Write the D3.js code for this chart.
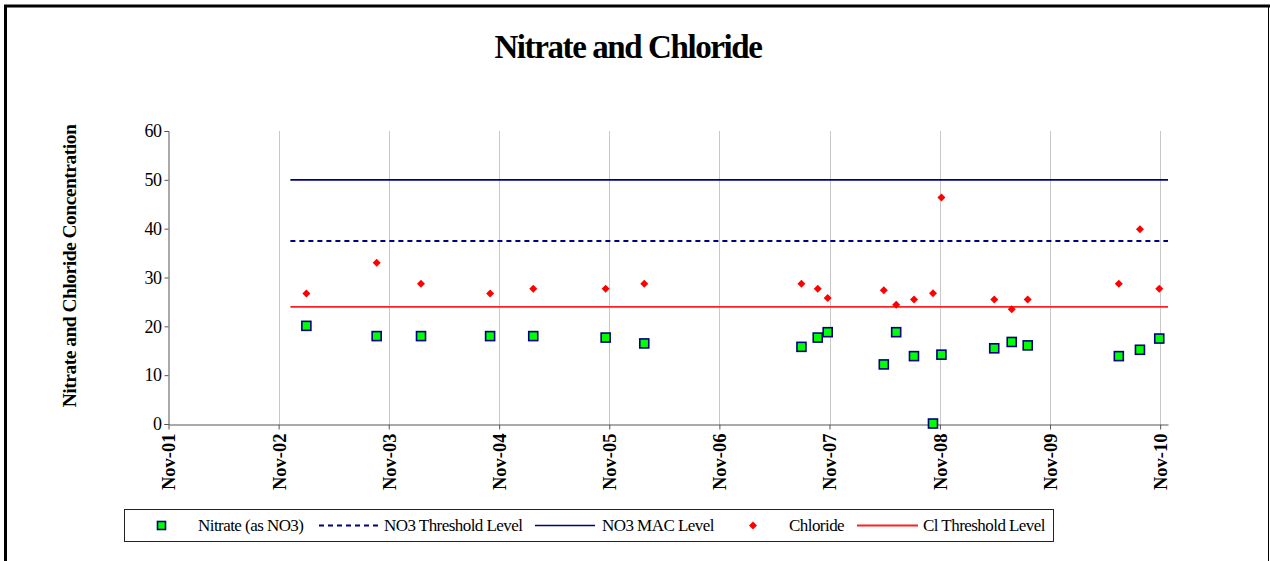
<!DOCTYPE html>
<html>
<head>
<meta charset="utf-8">
<script src="https://cdn.jsdelivr.net/npm/d3@7"></script>
<style>
  body { margin: 0; background: #fff; }
  text { font-family: "Liberation Serif", "DejaVu Serif", serif; }
</style>
</head>
<body>
<div id="chart"></div>
<script>
// size of the page
var width = 1270,
    height = 561

// sample dates
var sampleDates = ["2003-02-01", "2003-09-22", "2004-02-16", "2004-10-02", "2005-02-22",
  "2005-10-20", "2006-02-25", "2007-07-31", "2007-09-23", "2007-10-26", "2008-04-29",
  "2008-06-09", "2008-08-07", "2008-10-09", "2008-11-06", "2009-04-30", "2009-06-27",
  "2009-08-19", "2010-06-17", "2010-08-26", "2010-10-29"]
var nitrate = [20.1, 18.0, 18.0, 18.0, 18.0, 17.7, 16.5, 15.8, 17.7, 18.8, 12.2,
  18.8, 13.9, 0.1, 14.2, 15.5, 16.8, 16.1, 13.9, 15.2, 17.5]
var chloride = [26.7, 33.0, 28.7, 26.7, 27.7, 27.7, 28.7, 28.7, 27.7, 25.8, 27.4,
  24.4, 25.5, 26.8, 46.4, 25.5, 23.5, 25.5, 28.7, 39.9, 27.7]

// threshold lines run between these two dates
var limitDates = ["2002-12-10", "2010-11-27"]
var no3Threshold = 37.5
var no3MAC = 50
var clThreshold = 24

var tickDates = ["2001-11-01", "2002-11-01", "2003-11-01", "2004-11-01", "2005-11-01",
  "2006-11-01", "2007-11-01", "2008-11-01", "2009-11-01", "2010-11-01"]
var yTicks = [0, 10, 20, 30, 40, 50, 60]

var parse = d3.timeParse("%Y-%m-%d")

var svg = d3.select("#chart")
  .append("svg")
    .attr("width", width)
    .attr("height", height)

// outer frame (top and left heavy, right thin)
svg.append("path")
  .attr("d", "M5.5," + height + "V6H1270")
  .attr("fill", "none")
  .attr("stroke", "#000")
  .attr("stroke-width", 3)
svg.append("line")
  .attr("x1", 1268.5).attr("x2", 1268.5)
  .attr("y1", 5).attr("y2", height)
  .attr("stroke", "#000")

// title
svg.append("text")
  .attr("x", 628)
  .attr("y", 58)
  .attr("text-anchor", "middle")
  .style("font-size", "33px")
  .style("font-weight", "bold")
  .style("letter-spacing", "-1.4px")
  .text("Nitrate and Chloride")

// scales
var x = d3.scaleTime()
  .domain([parse("2001-11-01"), parse("2010-11-27")])
  .range([168.5, 1168])
var y = d3.scaleLinear()
  .domain([0, 60])
  .range([424, 131])

// vertical gridlines
svg.append("g")
  .selectAll("line")
  .data(tickDates.slice(1))
  .enter()
  .append("line")
    .attr("x1", d => Math.round(x(parse(d))) + 0.5)
    .attr("x2", d => Math.round(x(parse(d))) + 0.5)
    .attr("y1", y(60))
    .attr("y2", y(0))
    .attr("stroke", "#c8c8c8")
    .attr("stroke-width", 1)

// y axis
var yAxis = svg.append("g")
  .attr("transform", "translate(168.5,0)")
  .call(d3.axisLeft(y).tickValues(yTicks).tickSize(4).tickPadding(3))
yAxis.select(".domain").attr("stroke", "#555")
yAxis.selectAll(".tick line").attr("stroke", "#555")
yAxis.selectAll("text")
  .style("font-family", "Liberation Serif, serif")
  .style("font-size", "18px")
  .style("letter-spacing", "-0.5px")
  .attr("fill", "#000")

// x axis
var xAxis = svg.append("g")
  .attr("transform", "translate(0," + (y(0) + 0.5) + ")")
  .call(d3.axisBottom(x)
    .tickValues(tickDates.map(parse))
    .tickFormat(d3.timeFormat("Nov-%y"))
    .tickSize(5)
    .tickSizeOuter(0))
xAxis.select(".domain").attr("stroke", "#555")
xAxis.selectAll(".tick line").attr("stroke", "#555")
xAxis.selectAll("text")
  .style("font-family", "Liberation Serif, serif")
  .style("font-size", "18.5px")
  .style("font-weight", "bold")
  .attr("fill", "#000")
  .attr("text-anchor", "end")
  .attr("transform", "rotate(-90)")
  .attr("x", -9)
  .attr("y", 0)
  .attr("dy", "0.35em")

// y axis title
svg.append("text")
  .attr("transform", "translate(76,266) rotate(-90)")
  .attr("text-anchor", "middle")
  .style("font-size", "19.5px")
  .style("font-weight", "bold")
  .style("letter-spacing", "-0.5px")
  .text("Nitrate and Chloride Concentration")

// threshold lines
var limitLine = d3.line()
  .x(d => x(parse(d.date)))
  .y(d => y(d.value))
function addLimit(value, colour, dash, w) {
  svg.append("path")
    .datum(limitDates.map(d => ({date: d, value: value})))
    .attr("d", limitLine)
    .attr("fill", "none")
    .attr("stroke", colour)
    .attr("stroke-width", w)
    .attr("stroke-dasharray", dash)
}
addLimit(no3MAC, "#000080", null, 1.6)
addLimit(no3Threshold, "#000080", "5,4", 2)
addLimit(clThreshold, "#ff2020", null, 1.8)

// chloride diamonds (squares turned 45 degrees)
var diamond = d3.symbol().type(d3.symbolSquare).size(32)
svg.append("g")
  .selectAll("path")
  .data(sampleDates)
  .enter()
  .append("path")
    .attr("d", diamond)
    .attr("transform", (d, i) => "translate(" + x(parse(d)) + "," + y(chloride[i]) + ") rotate(45)")
    .attr("fill", "#ff0000")

// nitrate squares
svg.append("g")
  .selectAll("rect")
  .data(sampleDates)
  .enter()
  .append("rect")
    .attr("x", d => x(parse(d)) - 4.5)
    .attr("y", (d, i) => y(nitrate[i]) - 4.5)
    .attr("width", 9)
    .attr("height", 9)
    .attr("fill", "#00ff00")
    .attr("stroke", "#000080")
    .attr("stroke-width", 1.6)

// legend
var legend = svg.append("g")
legend.append("rect")
  .attr("x", 124.5).attr("y", 509.5)
  .attr("width", 929).attr("height", 32)
  .attr("fill", "#fff")
  .attr("stroke", "#222")
  .attr("stroke-width", 1)

var ly = 525.5
legend.append("rect")
  .attr("x", 157.5).attr("y", ly - 4)
  .attr("width", 8).attr("height", 8)
  .attr("fill", "#00ff00")
  .attr("stroke", "#000080")
  .attr("stroke-width", 1.6)
legend.append("line")
  .attr("x1", 319).attr("x2", 378).attr("y1", ly).attr("y2", ly)
  .attr("stroke", "#000080").attr("stroke-width", 2).attr("stroke-dasharray", "5,4")
legend.append("line")
  .attr("x1", 535).attr("x2", 595).attr("y1", ly).attr("y2", ly)
  .attr("stroke", "#000080").attr("stroke-width", 1.6)
legend.append("path")
  .attr("d", diamond)
  .attr("transform", "translate(753," + ly + ") rotate(45)")
  .attr("fill", "#ff0000")
legend.append("line")
  .attr("x1", 857).attr("x2", 918).attr("y1", ly).attr("y2", ly)
  .attr("stroke", "#ff2020").attr("stroke-width", 1.8)

var legendLabels = ["Nitrate (as NO3)", "NO3 Threshold Level", "NO3 MAC Level", "Chloride", "Cl Threshold Level"]
var legendX = [198, 384, 602, 789, 923]
legend.selectAll("text.lbl")
  .data(legendLabels)
  .enter()
  .append("text")
    .attr("class", "lbl")
    .attr("x", (d, i) => legendX[i])
    .attr("y", ly + 5)
    .style("font-size", "17px")
    .style("letter-spacing", "-0.55px")
    .text(d => d)
</script>
</body>
</html>
